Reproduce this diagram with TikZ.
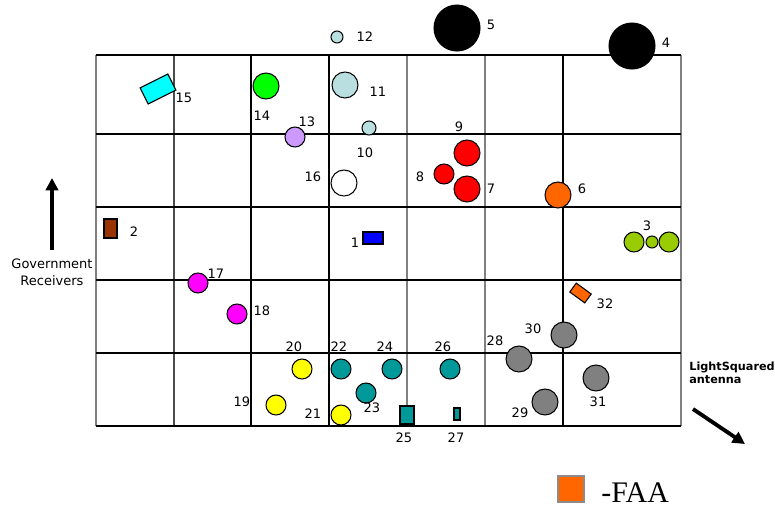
\documentclass[tikz,border=0pt]{standalone}
\usepackage{fontspec}
\setsansfont{DejaVu Sans}
\newfontfamily\faafont{Liberation Serif}
\usepackage{xcolor}
\usetikzlibrary{arrows.meta,positioning}

\definecolor{iceblue}{HTML}{B9DFE0}
\definecolor{lilac}{HTML}{CC99FF}
\definecolor{brightcyan}{HTML}{00FFFF}
\definecolor{brightgreen}{HTML}{00FF00}
\definecolor{brightmagenta}{HTML}{FF00FF}
\definecolor{brightyellow}{HTML}{FFFF00}
\definecolor{brightred}{HTML}{FF0000}
\definecolor{brightblue}{HTML}{0000FF}
\definecolor{faaorange}{HTML}{FF6600}
\definecolor{olivegreen}{HTML}{99CC00}
\definecolor{rust}{HTML}{993300}
\definecolor{tealdev}{HTML}{009999}
\definecolor{greydev}{HTML}{808080}

\begin{document}
\begin{tikzpicture}[
  x=0.02cm, y=-0.02cm,
  dev/.style={circle, draw, inner sep=0pt, line width=0.6pt},
  box/.style={rectangle, draw, inner sep=0pt, line width=0.6pt},
  num/.style={font=\sffamily\fontsize{7.4}{8.8}\selectfont, inner sep=0pt},
  bigarrow/.style={line width=2.2pt, -{Triangle[length=7pt,width=7pt]}}
]
  \useasboundingbox (0,0) rectangle (775,508);

  % Grid of cells
  \foreach \x/\c in {96/gray, 174/black!70, 251/black, 329/black, 407/gray,
                     485/gray, 563/black, 681/gray}
    \draw[line width=0.6pt, draw=\c] (\x,55) -- (\x,426);
  \foreach \y in {55,134,207,280,353,426}
    \draw[line width=0.6pt] (96,\y) -- (681,\y);

  % Top row and above
  \node[dev, fill=iceblue, minimum size=0.24cm] (d12) at (337,37) {};
  \node[num] (n12) at (365,37) {12};
  \node[dev, fill=black, minimum size=0.92cm] (d5) at (457,28) {};
  \node[num] (n5) at (491,25) {5};
  \node[dev, fill=black, minimum size=0.92cm] (d4) at (632,46) {};
  \node[num] (n4) at (666,43) {4};
  \node[box, fill=brightcyan, minimum width=0.62cm, minimum height=0.36cm,
    rotate=26.6] (d15) at (158,89) {};
  \node[num] (n15) at (184,98) {15};
  \node[dev, fill=brightgreen, minimum size=0.52cm] (d14) at (266,86) {};
  \node[num] (n14) at (262,116) {14};
  \node[dev, fill=iceblue, minimum size=0.52cm] (d11) at (345,85) {};
  \node[num] (n11) at (378,92) {11};
  \node[dev, fill=lilac, minimum size=0.4cm] (d13) at (295,137) {};
  \node[num] (n13) at (307,122) {13};
  \node[dev, fill=iceblue, minimum size=0.28cm] (d10) at (369,128) {};
  \node[num] (n10) at (365,153) {10};

  % Second row
  \node[dev, fill=white, minimum size=0.52cm] (d16) at (344,183) {};
  \node[num] (n16) at (313,177) {16};
  \node[dev, fill=brightred, minimum size=0.52cm] (d9) at (467,153) {};
  \node[num] (n9) at (459,127) {9};
  \node[dev, fill=brightred, minimum size=0.4cm] (d8) at (444,174) {};
  \node[num] (n8) at (420,177) {8};
  \node[dev, fill=brightred, minimum size=0.52cm] (d7) at (467,189) {};
  \node[num] (n7) at (491,189) {7};
  \node[dev, fill=faaorange, minimum size=0.52cm] (d6) at (558,195) {};
  \node[num] (n6) at (582,189) {6};

  % Third row
  \node[box, fill=rust, minimum width=0.26cm, minimum height=0.38cm]
    (d2) at (110.5,228.5) {};
  \node[num] (n2) at (134,232) {2};
  \node[box, fill=brightblue, minimum width=0.4cm, minimum height=0.24cm]
    (d1) at (373,238) {};
  \node[num] (n1) at (355,243) {1};
  \node[dev, fill=olivegreen, minimum size=0.4cm] (d3a) at (634,242) {};
  \node[dev, fill=olivegreen, minimum size=0.24cm] (d3b) at (652,242) {};
  \node[dev, fill=olivegreen, minimum size=0.4cm] (d3c) at (669,242) {};
  \node[num] (n3) at (647,226) {3};

  % Fourth row
  \node[dev, fill=brightmagenta, minimum size=0.4cm] (d17) at (198,283) {};
  \node[num] (n17) at (216,274) {17};
  \node[dev, fill=brightmagenta, minimum size=0.4cm] (d18) at (237,314) {};
  \node[num] (n18) at (262,311) {18};
  \node[box, fill=faaorange, minimum width=0.37cm, minimum height=0.22cm,
    rotate=-36] (d32) at (580.5,293) {};
  \node[num] (n32) at (605,304) {32};
  \node[dev, fill=greydev, minimum size=0.52cm] (d30) at (564,335) {};
  \node[num] (n30) at (533,329) {30};

  % Bottom row
  \node[dev, fill=brightyellow, minimum size=0.4cm] (d20) at (302,369) {};
  \node[num] (n20) at (294,347) {20};
  \node[dev, fill=brightyellow, minimum size=0.4cm] (d19) at (276,405) {};
  \node[num] (n19) at (242,402) {19};
  \node[dev, fill=brightyellow, minimum size=0.4cm] (d21) at (341,415) {};
  \node[num] (n21) at (313,414) {21};
  \node[dev, fill=tealdev, minimum size=0.4cm] (d22) at (341,369) {};
  \node[num] (n22) at (339,347) {22};
  \node[dev, fill=tealdev, minimum size=0.4cm] (d24) at (392,369) {};
  \node[num] (n24) at (385,347) {24};
  \node[dev, fill=tealdev, minimum size=0.4cm] (d26) at (450,369) {};
  \node[num] (n26) at (443,347) {26};
  \node[dev, fill=tealdev, minimum size=0.4cm] (d23) at (366,393) {};
  \node[num] (n23) at (372,408) {23};
  \node[box, fill=tealdev, minimum width=0.28cm, minimum height=0.36cm]
    (d25) at (407,415) {};
  \node[num] (n25) at (404,438) {25};
  \node[box, fill=tealdev, minimum width=0.12cm, minimum height=0.24cm]
    (d27) at (457,414) {};
  \node[num] (n27) at (456,438) {27};
  \node[dev, fill=greydev, minimum size=0.52cm] (d28) at (519,359) {};
  \node[num] (n28) at (495,341) {28};
  \node[dev, fill=greydev, minimum size=0.52cm] (d29) at (545,402) {};
  \node[num] (n29) at (520,413) {29};
  \node[dev, fill=greydev, minimum size=0.52cm] (d31) at (596,378) {};
  \node[num] (n31) at (598,402) {31};

  % Direction arrows
  \coordinate (gov-tail) at (52,250);
  \coordinate (gov-head) at (52,178);
  \draw[bigarrow] (gov-tail) -- (gov-head);
  \node[num, align=center, font=\sffamily\fontsize{7.4}{9.6}\selectfont]
    (gov) at (52,272) {Government\\Receivers};

  \node[num, anchor=west, align=left,
    font=\sffamily\bfseries\fontsize{6.4}{7.4}\selectfont]
    (ls) at (689,373) {LightSquared\\antenna};
  \coordinate (ls-tail) at (693,409);
  \coordinate (ls-head) at (745,444);
  \draw[bigarrow] (ls-tail) -- (ls-head);

  % Legend
  \node[box, fill=faaorange, draw=black!45, line width=1pt,
    minimum size=0.52cm] (key) at (571,489) {};
  \node[inner sep=0pt, anchor=base west, font=\faafont\fontsize{17}{20}\selectfont]
    (keytext) at (601,502) {-FAA};
\end{tikzpicture}
\end{document}
